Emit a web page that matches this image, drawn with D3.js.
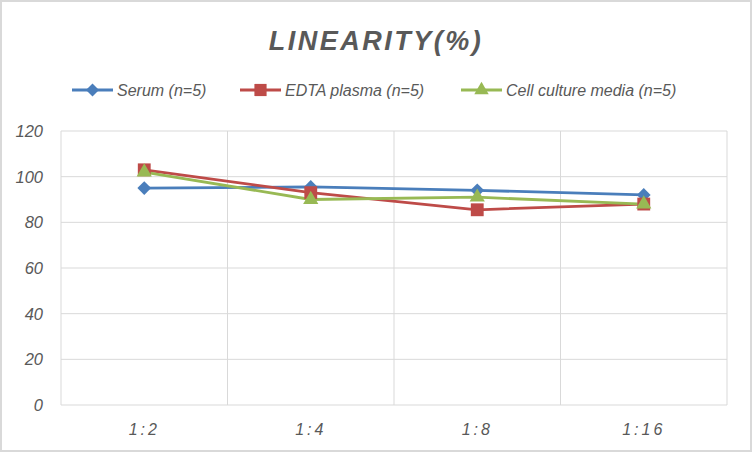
<!DOCTYPE html>
<html><head><meta charset="utf-8">
<script src="https://cdn.jsdelivr.net/npm/d3@7"></script>
<style>body{margin:0;background:#fff;}svg{display:block;}</style>
</head><body>
<svg id="c" width="752" height="452"></svg>
<script>
const categories = ["1:2", "1:4", "1:8", "1:16"];
const serum = [95, 95.5, 94, 92];
const edta = [103, 93, 85.5, 88];
const cell = [102, 90, 91, 88];
const yTicks = [0, 20, 40, 60, 80, 100, 120];
const seriesNames = ["Serum (n=5)", "EDTA plasma (n=5)", "Cell culture media (n=5)"];
const colors = ["#4a7ebb", "#be4b48", "#98b954"];

const svg = d3.select("#c");
const W = 752, H = 452;
const font = "'Liberation Sans', Arial, sans-serif";
svg.append("rect").attr("x",1).attr("y",1).attr("width",W-2).attr("height",H-2)
  .attr("fill","#fff").attr("stroke","#d9d9d9").attr("stroke-width",2);

const m = {l:61, r:727, t:131, b:405};
const x = d3.scaleBand().domain(categories).range([m.l, m.r]);
const y = d3.scaleLinear().domain([0,120]).range([m.b, m.t]);

svg.append("g").selectAll("line").data(yTicks).join("line")
  .attr("x1", m.l).attr("x2", m.r).attr("y1", d=>y(d)).attr("y2", d=>y(d))
  .attr("stroke", "#d9d9d9").attr("stroke-width", 1);
const edges = categories.map(c=>x(c)).concat([m.r]);
svg.append("g").selectAll("line").data(edges).join("line")
  .attr("x1", d=>d).attr("x2", d=>d).attr("y1", m.t).attr("y2", m.b)
  .attr("stroke", "#d9d9d9").attr("stroke-width", 1);

svg.append("g").selectAll("text").data(yTicks).join("text")
  .attr("x", 43).attr("y", d=>y(d)+6).attr("text-anchor","end")
  .attr("font-family", font).attr("font-style","italic").attr("font-size", 16.5)
  .attr("fill", "#595959").text(d=>d);
svg.append("g").selectAll("text").data(categories).join("text")
  .attr("x", d=>x(d)+x.bandwidth()/2).attr("y", 435).attr("text-anchor","middle")
  .attr("font-family", font).attr("font-style","italic").attr("font-size", 16)
  .attr("letter-spacing", 3)
  .attr("fill", "#595959").text(d=>d);

svg.append("text").attr("x", 376).attr("y", 50).attr("text-anchor","middle")
  .attr("font-family", font).attr("font-style","italic").attr("font-weight","bold")
  .attr("font-size", 27).attr("letter-spacing", 2.5).attr("fill","#595959")
  .text("LINEARITY(%)");

const data = [serum, edta, cell];
const symbols = [d3.symbolSquare, d3.symbolSquare, d3.symbolTriangle];
const rots = [45, 0, 0];
const sizes = [95, 165, 100];
const cx = c => x(c) + x.bandwidth()/2;
const line = d3.line().x((d,i)=>cx(categories[i])).y(d=>y(d));

data.forEach((vals, si) => {
  svg.append("path").datum(vals).attr("d", line).attr("fill","none")
    .attr("stroke", colors[si]).attr("stroke-width", 2.8).attr("stroke-linejoin","round");
});
data.forEach((vals, si) => {
  svg.append("g").selectAll("path").data(vals).join("path")
    .attr("transform", (d,i)=>`translate(${cx(categories[i])},${y(d)}) rotate(${rots[si]})`)
    .attr("d", d3.symbol().type(symbols[si]).size(sizes[si]))
    .attr("fill", colors[si]);
});

const legX = [72, 240, 461];
seriesNames.forEach((n, i) => {
  const g = svg.append("g").attr("transform", `translate(${legX[i]},90)`);
  g.append("line").attr("x1",0).attr("x2",41).attr("y1",0).attr("y2",0)
    .attr("stroke", colors[i]).attr("stroke-width", 2.8);
  g.append("path").attr("transform",`translate(20.5,0) rotate(${rots[i]})`)
    .attr("d", d3.symbol().type(symbols[i]).size(sizes[i]*0.9)).attr("fill", colors[i]);
  g.append("text").attr("x", 45).attr("y", 6).attr("font-family", font)
    .attr("font-style","italic").attr("font-size", 16).attr("fill","#595959").text(n);
});
</script>
</body></html>
